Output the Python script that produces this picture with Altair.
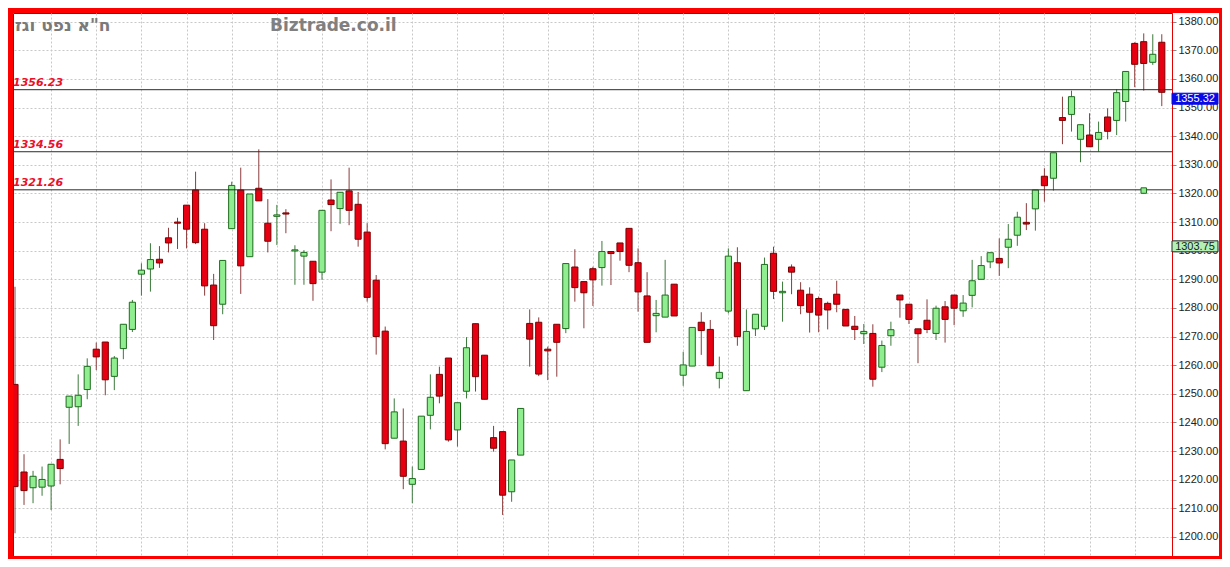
import altair as alt
import pandas as pd

# ---------------- data ----------------
opens = [1253.3, 1222.7, 1217.2, 1217.4, 1217.8, 1227.1, 1245.3, 1245.5, 1251.5, 1265.6,
         1268.1, 1256.1, 1265.8, 1272.5, 1291.8, 1293.6, 1297.0, 1304.5, 1310.0, 1315.9,
         1321.2, 1307.5, 1288.0, 1281.3, 1307.7, 1321.2, 1297.9, 1321.8, 1309.6, 1312.0,
         1313.2, 1299.9, 1298.1, 1296.3, 1292.5, 1317.7, 1314.7, 1320.9, 1316.2, 1306.5,
         1289.7, 1271.9, 1234.5, 1233.5, 1218.4, 1223.6, 1242.5, 1256.8, 1262.5, 1237.4,
         1250.9, 1274.5, 1263.5, 1234.7, 1236.8, 1215.8, 1228.6, 1274.6, 1275.0, 1265.6,
         1274.3, 1272.8, 1294.3, 1289.2, 1293.7, 1294.1, 1299.7, 1302.7, 1307.8, 1295.8,
         1284.2, 1277.3, 1276.8, 1288.3, 1256.5, 1259.7, 1275.0, 1272.5, 1255.4, 1278.9,
         1295.8, 1251.1, 1272.7, 1273.6, 1299.1, 1285.3, 1294.3, 1286.2, 1284.8, 1283.3,
         1281.6, 1284.8, 1279.5, 1273.6, 1271.0, 1271.1, 1259.3, 1270.3, 1284.5, 1281.3,
         1272.7, 1275.7, 1271.1, 1280.4, 1284.5, 1279.0, 1284.4, 1290.0, 1296.1, 1297.3,
         1301.2, 1305.4, 1309.9, 1314.6, 1326.0, 1325.3, 1346.5, 1347.6, 1338.9, 1340.4,
         1338.9, 1346.7, 1345.5, 1352.1, 1372.4, 1373.0, 1365.8, 1372.8]
highs = [1287.4, 1228.9, 1223.1, 1224.6, 1225.4, 1234.1, 1249.2, 1256.8, 1262.4, 1267.9,
         1268.1, 1263.2, 1274.3, 1282.8, 1295.6, 1302.6, 1301.6, 1308.0, 1311.5, 1315.9,
         1327.6, 1309.6, 1291.9, 1296.6, 1324.1, 1329.0, 1319.8, 1335.4, 1318.0, 1316.0,
         1314.5, 1301.9, 1300.2, 1296.3, 1314.1, 1324.9, 1320.4, 1329.0, 1320.5, 1309.6,
         1291.5, 1273.5, 1248.4, 1244.9, 1224.6, 1242.2, 1256.8, 1259.5, 1262.5, 1246.9,
         1269.8, 1274.5, 1263.5, 1238.8, 1236.8, 1226.9, 1244.9, 1279.5, 1276.7, 1266.5,
         1274.3, 1295.5, 1300.5, 1289.2, 1294.4, 1303.4, 1299.9, 1302.7, 1307.8, 1300.8,
         1292.5, 1282.8, 1296.8, 1288.3, 1264.7, 1273.2, 1278.5, 1275.8, 1263.0, 1300.8,
         1301.2, 1279.5, 1277.8, 1297.6, 1301.4, 1289.2, 1295.2, 1289.0, 1287.2, 1284.0,
         1282.2, 1289.5, 1279.5, 1277.2, 1274.4, 1274.3, 1268.6, 1275.2, 1284.5, 1281.3,
         1272.7, 1283.0, 1280.8, 1282.4, 1284.5, 1284.5, 1296.8, 1298.1, 1299.3, 1304.3,
         1309.3, 1313.6, 1316.6, 1321.2, 1328.8, 1334.2, 1353.8, 1355.9, 1344.0, 1348.0,
         1345.1, 1349.7, 1356.4, 1362.6, 1372.8, 1375.9, 1375.6, 1375.6]
lows = [1201.3, 1211.2, 1211.8, 1214.4, 1209.4, 1218.4, 1232.5, 1238.8, 1248.1, 1258.3,
        1249.5, 1251.3, 1262.1, 1271.6, 1284.3, 1285.7, 1294.0, 1299.4, 1300.6, 1300.8,
        1302.3, 1284.3, 1268.8, 1277.8, 1307.7, 1284.9, 1297.9, 1317.4, 1299.4, 1302.0,
        1306.1, 1288.1, 1288.1, 1282.5, 1289.8, 1306.8, 1309.4, 1308.9, 1301.4, 1282.2,
        1263.7, 1230.6, 1234.5, 1216.7, 1211.8, 1223.6, 1237.6, 1246.7, 1233.3, 1231.6,
        1248.4, 1250.8, 1248.1, 1229.8, 1207.7, 1212.3, 1228.6, 1259.5, 1256.2, 1254.8,
        1256.0, 1271.2, 1282.2, 1272.9, 1280.7, 1287.8, 1288.0, 1296.5, 1292.5, 1278.7,
        1268.0, 1271.5, 1276.8, 1277.2, 1252.8, 1259.7, 1263.6, 1259.8, 1251.9, 1278.1,
        1266.8, 1251.1, 1270.2, 1272.3, 1283.1, 1275.2, 1284.8, 1277.8, 1271.4, 1271.5,
        1272.5, 1278.5, 1273.7, 1268.8, 1267.4, 1252.5, 1257.6, 1266.8, 1276.6, 1274.4,
        1260.7, 1271.2, 1268.8, 1267.9, 1274.0, 1276.9, 1280.2, 1290.0, 1293.9, 1291.2,
        1293.9, 1301.7, 1307.2, 1307.0, 1317.1, 1321.0, 1337.2, 1341.6, 1330.9, 1336.3,
        1334.6, 1338.9, 1340.4, 1345.1, 1357.1, 1355.9, 1364.9, 1350.5]
closes = [1217.6, 1216.2, 1221.2, 1220.1, 1225.4, 1223.9, 1249.2, 1249.5, 1259.6, 1262.9,
          1254.9, 1262.5, 1274.3, 1282.0, 1293.2, 1296.9, 1295.7, 1302.7, 1309.6, 1307.5,
          1302.8, 1287.7, 1273.8, 1296.6, 1322.8, 1294.7, 1319.8, 1317.4, 1303.3, 1312.5,
          1312.8, 1300.3, 1299.4, 1288.5, 1314.1, 1316.1, 1320.4, 1314.1, 1304.0, 1283.7,
          1270.0, 1232.6, 1243.7, 1221.2, 1220.4, 1242.2, 1248.8, 1249.2, 1233.9, 1246.9,
          1266.1, 1256.0, 1248.1, 1231.0, 1214.6, 1226.9, 1244.9, 1269.1, 1256.9, 1265.0,
          1268.0, 1295.5, 1287.1, 1285.3, 1289.8, 1299.7, 1299.0, 1299.7, 1294.9, 1285.6,
          1268.0, 1278.1, 1284.5, 1277.2, 1260.1, 1273.2, 1272.1, 1259.8, 1257.5, 1298.1,
          1270.0, 1271.8, 1277.8, 1295.2, 1285.8, 1285.8, 1292.5, 1280.8, 1278.5, 1277.5,
          1279.3, 1281.3, 1273.7, 1272.5, 1271.8, 1255.1, 1266.9, 1272.4, 1282.8, 1276.0,
          1271.0, 1272.5, 1279.9, 1276.0, 1279.9, 1281.7, 1289.5, 1294.8, 1299.3, 1295.7,
          1304.0, 1311.7, 1309.3, 1321.2, 1322.7, 1334.2, 1345.5, 1353.8, 1344.0, 1336.3,
          1341.3, 1341.7, 1355.2, 1362.6, 1365.1, 1365.4, 1368.6, 1355.32]

level_values = [1356.23, 1334.56, 1321.26]
level_labels = ["1356.23", "1334.56", "1321.26"]

y_tick_values = [1200, 1210, 1220, 1230, 1240, 1250, 1260, 1270, 1280, 1290,
                 1300, 1310, 1320, 1330, 1340, 1350, 1360, 1370, 1380]
x_grid_values = [4, 9, 14, 19, 24, 29, 34, 39, 44, 49, 54, 59, 64, 69, 74, 79, 84,
                 89, 94, 99, 104, 109, 114, 119, 124]

last_price = [1355.32]
second_price = [1303.75]
marker_index = [125]
marker_value = [1321.0]

title_text = 'ח"א נפט וגז'
watermark_text = "Biztrade.co.il"

# ---------------- layout ----------------
W, H = 1159, 543
PAD = {"left": 5, "top": 5, "right": 50, "bottom": 3}
X_DOMAIN = [-0.22, 128.13]
Y_DOMAIN = [1193.36, 1383.02]

RED = "#e60012"
RED_EDGE = "#7a0000"
RED_WICK = "#8c3c3c"
GREEN = "#90ee90"
GREEN_EDGE = "#1e6b1e"
GREEN_WICK = "#3c7a3c"
FRAME = "#ff0000"

df = pd.DataFrame({
    "i": list(range(len(opens))),
    "open": opens, "high": highs, "low": lows, "close": closes,
})
one = pd.DataFrame({"k": [0]})

xs = alt.Scale(domain=X_DOMAIN, nice=False, zero=False)
ys = alt.Scale(domain=Y_DOMAIN, nice=False, zero=False)
up = "datum.close >= datum.open"

x_axis = alt.Axis(values=x_grid_values, grid=True, labels=False, ticks=False,
                  domain=False, title=None, gridColor="#c8c8c8", gridDash=[2, 2],
                  gridWidth=1)
y_axis = alt.Axis(orient="right", values=y_tick_values, format=".2f", title=None,
                  grid=True, gridColor="#c8c8c8", gridDash=[2, 2], gridWidth=1,
                  domainColor="#e00000", domainWidth=1, tickColor="#888888",
                  tickSize=4, labelPadding=2, labelFont="Liberation Sans",
                  labelFontSize=11, labelColor="#222222", labelOverlap=False,
                  labelFlush=False, labelBound=False)


def X(field):
    return alt.X(field, scale=xs, axis=x_axis)


def Y(field):
    return alt.Y(field, scale=ys, axis=y_axis)


wicks = alt.Chart(df).mark_rule(strokeWidth=1).encode(
    x=X("i:Q"),
    y=Y("low:Q"),
    y2="high:Q",
    color=alt.condition(up, alt.value(GREEN_WICK), alt.value(RED_WICK)),
)

bodies = alt.Chart(df).transform_calculate(
    xa="datum.i - 0.34", xb="datum.i + 0.34"
).mark_rect(strokeWidth=1).encode(
    x=X("xa:Q"),
    x2="xb:Q",
    y=Y("open:Q"),
    y2="close:Q",
    fill=alt.condition(up, alt.value(GREEN), alt.value(RED)),
    stroke=alt.condition(up, alt.value(GREEN_EDGE), alt.value(RED_EDGE)),
)

levels_df = pd.DataFrame({"v": level_values, "label": level_labels})
level_lines = alt.Chart(levels_df).mark_rule(color="#2a2a2a", strokeWidth=1).encode(
    y=Y("v:Q")
)
level_text = alt.Chart(levels_df).mark_text(
    align="left", baseline="alphabetic", dy=-4, font="DejaVu Sans",
    fontSize=11, fontStyle="italic", fontWeight="bold", color="#e8102a"
).encode(
    x=alt.value(0),
    y=Y("v:Q"),
    text="label:N",
)

marker_df = pd.DataFrame({"i": marker_index, "v": marker_value})
marker = alt.Chart(marker_df).mark_square(
    size=30, filled=True, fill=GREEN, stroke=GREEN_EDGE, strokeWidth=1, opacity=1
).encode(
    x=X("i:Q"),
    y=Y("v:Q"),
)


def price_tag(values, fill, text_color, stroke):
    d = pd.DataFrame({"v": values, "t": [f"{v:.2f}" for v in values]})
    box = alt.Chart(d).mark_tick(
        orient="horizontal", thickness=11, size=46, fill=fill, stroke=stroke,
        strokeWidth=1, opacity=1, yOffset=6.4
    ).encode(x=alt.value(W + 23), y=Y("v:Q"))
    txt = alt.Chart(d).mark_text(
        align="center", baseline="middle", dy=6.8, font="Liberation Sans",
        fontSize=11, color=text_color
    ).encode(x=alt.value(W + 23), y=Y("v:Q"), text="t:N")
    return box + txt


tag_last = price_tag(last_price, "#0a0ae6", "#ffffff", "#0a0ae6")
tag_second = price_tag(second_price, "#b4f0b4", "#1a1a1a", "#222222")

title = alt.Chart(one).mark_text(
    align="left", baseline="alphabetic", font="DejaVu Sans", fontSize=17,
    fontWeight="bold", color="#7a7a7a", text=title_text
).encode(x=alt.value(2), y=alt.value(18))
watermark = alt.Chart(one).mark_text(
    align="left", baseline="alphabetic", font="DejaVu Sans", fontSize=17,
    fontWeight="bold", color="#808080", text=watermark_text
).encode(x=alt.value(257), y=alt.value(18))


def strip(x1, x2, y1, y2):
    return alt.Chart(one).mark_rect(color=FRAME).encode(
        x=alt.value(x1), x2=alt.value(x2), y=alt.value(y1), y2=alt.value(y2)
    )


frame = (strip(-5, 0, -5, H + 3) + strip(-5, W + 50, -5, 0) +
         strip(W + 47, W + 50, -5, H + 3) + strip(-5, W + 50, H, H + 3))

chart = alt.layer(
    wicks, bodies, level_lines, level_text, marker, title, watermark,
    tag_second, tag_last, frame
).properties(
    width=W, height=H, padding=PAD, autosize="none", background="white"
).configure_view(
    fill="white", stroke="#333333", strokeWidth=1
).configure_axis(labelOverlap=False)

chart.save("out.html", embed_options={"renderer": "svg", "actions": False})
